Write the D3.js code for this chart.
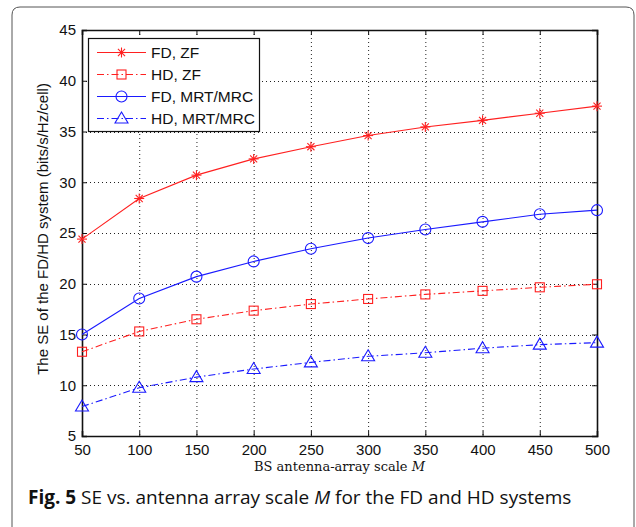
<!DOCTYPE html>
<html>
<head>
<meta charset="utf-8">
<script src="https://cdn.jsdelivr.net/npm/d3@7"></script>
<style>
  body { margin: 0; background: #fff; }
  svg { display: block; }
</style>
</head>
<body>
<svg id="chart" width="636" height="527"></svg>
<script>
// Data
const antennas = [50, 100, 150, 200, 250, 300, 350, 400, 450, 500];
const fdZF  = [24.4, 28.4, 30.7, 32.3, 33.5, 34.6, 35.45, 36.1, 36.8, 37.5];
const hdZF  = [13.3, 15.3, 16.5, 17.35, 18.0, 18.5, 18.95, 19.3, 19.65, 19.95];
const fdMRT = [15.0, 18.55, 20.7, 22.2, 23.45, 24.5, 25.35, 26.1, 26.85, 27.25];
const hdMRT = [7.9, 9.75, 10.8, 11.6, 12.25, 12.85, 13.2, 13.65, 14.0, 14.2];
const yTicks = [5, 10, 15, 20, 25, 30, 35, 40, 45];

const series = [
    {name: "FD, ZF", values: fdZF, color: "#ff2020", dash: null, marker: "star"},
    {name: "HD, ZF", values: hdZF, color: "#ff2020", dash: "7,3,1.5,3", marker: "square"},
    {name: "FD, MRT/MRC", values: fdMRT, color: "#1a1aff", dash: null, marker: "circle"},
    {name: "HD, MRT/MRC", values: hdMRT, color: "#1a1aff", dash: "7,3,1.5,3", marker: "triangle"}
];

const sansFont = "'Liberation Sans', Arial, sans-serif";
const svg = d3.select("#chart");
const plot = {left: 82, right: 597, top: 30, bottom: 436};

// Figure frame (rounded top corners, open at bottom)
svg.append("path")
    .attr("d", "M12,527 L12,15 Q12,7 20,7 L626,7 Q634,7 634,15 L634,527")
    .attr("fill", "none")
    .attr("stroke", "#555")
    .attr("stroke-width", 1);

const x = d3.scaleLinear().domain([50, 500]).range([plot.left, plot.right]);
const y = d3.scaleLinear().domain([5, 45]).range([plot.bottom, plot.top]);

// Grid
const grid = svg.append("g").attr("stroke", "#222").attr("stroke-width", 1)
    .attr("stroke-dasharray", "1,3");
grid.selectAll(".gx").data(antennas.slice(1, -1)).join("line")
    .attr("x1", d => x(d) + 0.5).attr("x2", d => x(d) + 0.5)
    .attr("y1", plot.top).attr("y2", plot.bottom);
grid.selectAll(".gy").data(yTicks.slice(1, -1)).join("line")
    .attr("y1", d => Math.round(y(d)) + 0.5).attr("y2", d => Math.round(y(d)) + 0.5)
    .attr("x1", plot.left).attr("x2", plot.right);

// Axes (MATLAB style: ticks inward on all sides)
const axB = svg.append("g").attr("transform", `translate(0,${plot.bottom})`)
    .call(d3.axisBottom(x).tickValues(antennas).tickSize(-5).tickPadding(8));
const axL = svg.append("g").attr("transform", `translate(${plot.left},0)`)
    .call(d3.axisLeft(y).tickValues(yTicks).tickSize(-5).tickPadding(6));
const axT = svg.append("g").attr("transform", `translate(0,${plot.top})`)
    .call(d3.axisTop(x).tickValues(antennas).tickSize(-5).tickFormat(""));
const axR = svg.append("g").attr("transform", `translate(${plot.right},0)`)
    .call(d3.axisRight(y).tickValues(yTicks).tickSize(-5).tickFormat(""));
[axB, axL, axT, axR].forEach(a => {
    a.selectAll("path").attr("stroke", "#111").attr("stroke-width", 1.6);
    a.selectAll("line").attr("stroke", "#111");
    a.selectAll("text")
        .attr("font-family", sansFont)
        .attr("font-size", 15)
        .attr("fill", "#111");
});

// Lines and markers
const line = d3.line().x((d, i) => x(antennas[i])).y(d => y(d));

function drawMarker(g, type, cx, cy, color) {
    if (type === "star") {
        const r = 5;
        const s = g.append("g").attr("stroke", color).attr("stroke-width", 1.1);
        [0, 45, 90, 135].forEach(a => {
            const rad = a * Math.PI / 180;
            s.append("line")
                .attr("x1", cx - r * Math.cos(rad)).attr("y1", cy - r * Math.sin(rad))
                .attr("x2", cx + r * Math.cos(rad)).attr("y2", cy + r * Math.sin(rad));
        });
    } else if (type === "square") {
        g.append("rect").attr("x", cx - 4.5).attr("y", cy - 4.5)
            .attr("width", 9).attr("height", 9)
            .attr("fill", "none").attr("stroke", color).attr("stroke-width", 1.1);
    } else if (type === "circle") {
        g.append("circle").attr("cx", cx).attr("cy", cy).attr("r", 5.5)
            .attr("fill", "none").attr("stroke", color).attr("stroke-width", 1.1);
    } else if (type === "triangle") {
        g.append("path")
            .attr("d", `M${cx},${cy - 6.5} L${cx + 6.5},${cy + 4.5} L${cx - 6.5},${cy + 4.5} Z`)
            .attr("fill", "none").attr("stroke", color).attr("stroke-width", 1.1);
    }
}

series.forEach(s => {
    const g = svg.append("g");
    g.append("path")
        .datum(s.values)
        .attr("d", line)
        .attr("fill", "none")
        .attr("stroke", s.color)
        .attr("stroke-width", 1.1)
        .attr("stroke-dasharray", s.dash);
    s.values.forEach((v, i) => drawMarker(g, s.marker, x(antennas[i]), y(v), s.color));
});

// Legend
const legend = svg.append("g");
legend.append("rect")
    .attr("x", 88.5).attr("y", 38.5).attr("width", 171).attr("height", 93)
    .attr("fill", "#fff").attr("stroke", "#111").attr("stroke-width", 1.2);
series.forEach((s, i) => {
    const ly = 52.5 + i * 22;
    legend.append("line")
        .attr("x1", 97).attr("x2", 146).attr("y1", ly).attr("y2", ly)
        .attr("stroke", s.color).attr("stroke-width", 1.1)
        .attr("stroke-dasharray", s.dash);
    drawMarker(legend, s.marker, 121.5, ly, s.color);
    legend.append("text")
        .attr("x", 151).attr("y", ly + 5.5)
        .attr("font-family", sansFont)
        .attr("font-size", 15.5)
        .attr("fill", "#111")
        .text(s.name);
});

// Axis labels
svg.append("text")
    .attr("x", (plot.left + plot.right) / 2).attr("y", 471)
    .attr("text-anchor", "middle")
    .attr("font-family", "'DejaVu Serif', 'Liberation Serif', serif")
    .attr("font-size", 13)
    .attr("fill", "#111")
    .html("BS antenna-array scale <tspan font-style='italic'>M</tspan>");

svg.append("text")
    .attr("transform", `translate(48,${(plot.top + plot.bottom) / 2 - 4}) rotate(-90)`)
    .attr("text-anchor", "middle")
    .attr("font-family", sansFont)
    .attr("font-size", 15)
    .attr("fill", "#111")
    .text("The SE of the FD/HD system (bits/s/Hz/cell)");

// Caption
svg.append("text")
    .attr("x", 28).attr("y", 504)
    .attr("font-family", "'Open Sans', sans-serif")
    .attr("font-size", 19)
    .attr("fill", "#111")
    .html("<tspan font-weight='bold'>Fig. 5</tspan> SE vs. antenna array scale <tspan font-style='italic'>M</tspan> for the FD and HD systems");
</script>
</body>
</html>
